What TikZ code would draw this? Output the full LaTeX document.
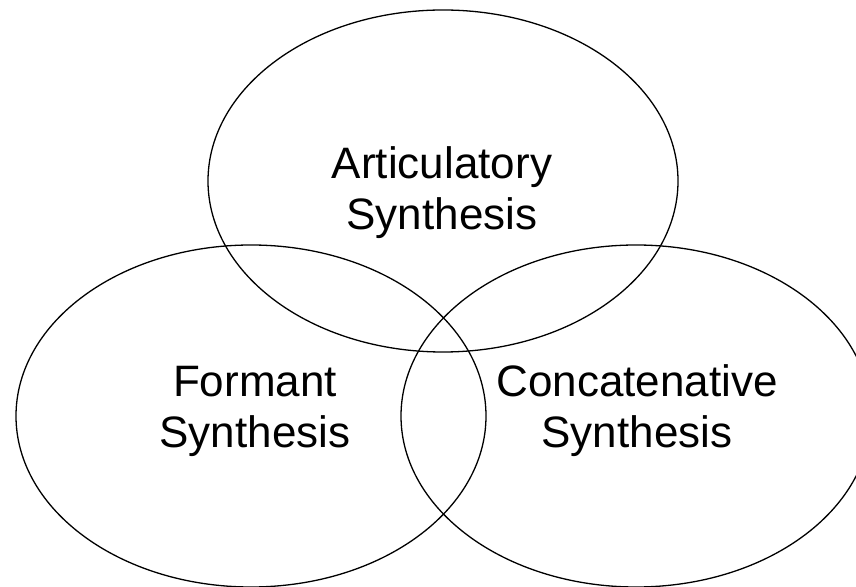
\documentclass[tikz,border=0pt]{standalone}
\usepackage{fontspec}
\setmainfont{Liberation Sans}
\begin{document}
\begin{tikzpicture}[x=1pt,y=1pt,
  circ/.style={draw=black,line width=1.3pt},
  lbl/.style={align=center,inner sep=0pt,font=\fontsize{44}{51}\selectfont,anchor=base}]
\useasboundingbox (0,0) rectangle (856,586);
\draw[circ] (443,405) ellipse [x radius=235,y radius=171];
\draw[circ] (251,170) ellipse [x radius=235,y radius=171];
\draw[circ] (636,170) ellipse [x radius=235,y radius=171];
\node[lbl] (art) at (442,356) {Articulatory\\Synthesis};
\node[lbl] (for) at (255,138) {Formant\\Synthesis};
\node[lbl] (con) at (637,138) {Concatenative\\Synthesis};
\end{tikzpicture}
\end{document}
